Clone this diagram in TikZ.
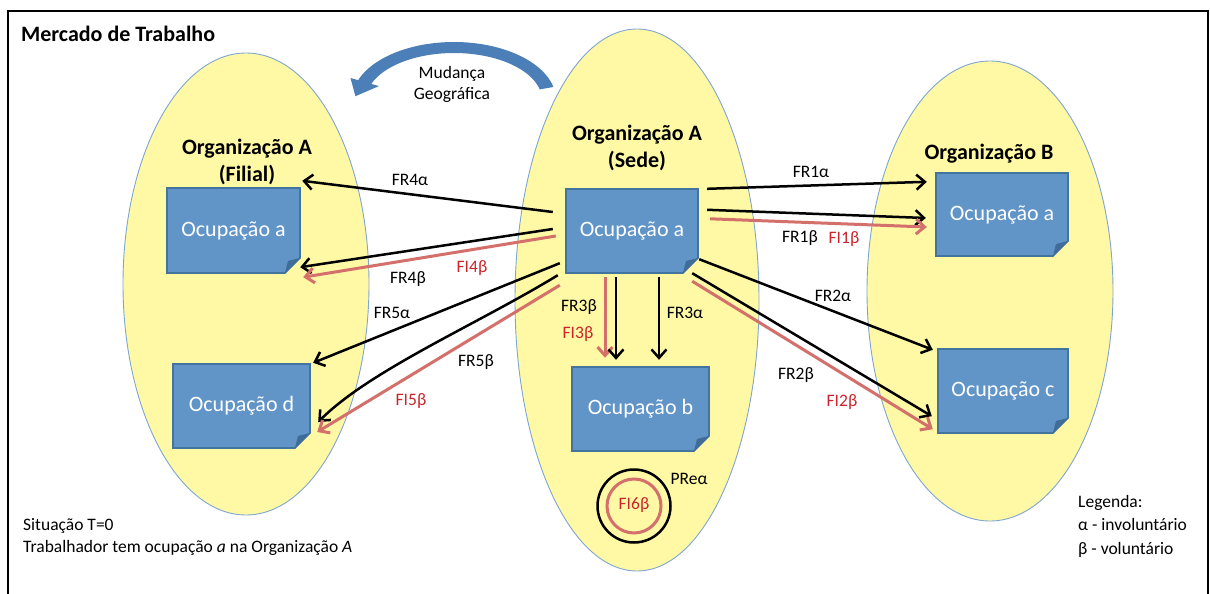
\documentclass[tikz,border=0pt]{standalone}
\usepackage{fontspec}
\setmainfont{Carlito}
\usetikzlibrary{arrows.meta,calc}

\definecolor{orgfill}{HTML}{FFF9A6}
\definecolor{orgline}{HTML}{7FA6CF}
\definecolor{boxfill}{HTML}{6194C7}
\definecolor{boxline}{HTML}{43739F}
\definecolor{boxfold}{HTML}{3F6C99}
\definecolor{redline}{HTML}{D4706B}
\definecolor{redtext}{HTML}{C9252C}
\definecolor{movblue}{HTML}{4C7FB8}

\tikzset{
  org/.style={draw=orgline, line width=0.9pt, fill=orgfill},
  occtext/.style={text=white, inner sep=0pt, font=\fontsize{22}{26}\selectfont},
  orgtitle/.style={inner sep=0pt, align=center, font=\bfseries\fontsize{22}{27}\selectfont},
  lbl/.style={inner sep=0pt, text height=11.3pt, text depth=0pt, font=\fontsize{17.5}{21}\selectfont},
  lblred/.style={lbl, text=redtext},
  note/.style={inner sep=0pt, align=left, anchor=west},
  blk/.style={draw=black, line width=2.5pt, -{Straight Barb[length=8.5pt, width=15pt]}},
  rd/.style={draw=redline, line width=3pt, -{Straight Barb[length=8.5pt, width=15pt]}},
}

% occupation box with a folded bottom-right corner: name, cx, cy, w, h, text
\newcommand\occbox[6]{%
  \fill[boxfill, draw=boxline, line width=1.6pt]
    ({#2-#4/2},{#3-#5/2}) -- ({#2+#4/2},{#3-#5/2}) -- ({#2+#4/2},{#3+#5/2-15})
    -- ({#2+#4/2-15},{#3+#5/2}) -- ({#2-#4/2},{#3+#5/2}) -- cycle;
  \fill[boxfold] ({#2+#4/2},{#3+#5/2-15}) -- ({#2+#4/2-15},{#3+#5/2})
    -- ({#2+#4/2-12},{#3+#5/2-12}) -- cycle;
  \node[occtext, minimum width=#4pt, minimum height=#5pt] (#1) at (#2,#3) {#6};
}

\begin{document}
\begin{tikzpicture}[x=1pt, y=-1pt]
\useasboundingbox (0,0) rectangle (1210,594);
\fill[white] (0,0) rectangle (1210,594);

% outer frame
\draw[line width=2.6pt] (8,610) -- (8,11) -- (1208,11) -- (1208,610);

\node[anchor=west, inner sep=0pt, font=\bfseries\fontsize{22}{26}\selectfont] (titulo) at (21,34) {Mercado de Trabalho};

% organisations
\draw[org] (246,284) ellipse [x radius=123, y radius=231];
\draw[org] (637,300) ellipse [x radius=122, y radius=271];
\draw[org] (990,291) ellipse [x radius=123, y radius=230];

\node[orgtitle] (orgfilial) at (247,161.5) {Organização A\\(Filial)};
\node[orgtitle] (orgsede) at (637,147.5) {Organização A\\(Sede)};
\node[orgtitle] (orgb) at (989,153.5) {Organização B};

% curved block arrow: geographic move
\fill[movblue]
  plot[domain=13:160, samples=60] ({454+102*cos(\x)},{100-58*sin(\x)})
  -- (350.5,78) -- (355.4,96.2) -- (379,86.1)
  -- plot[domain=160:13, samples=60] ({454+88*cos(\x)},{100-47*sin(\x)})
  -- cycle;
\node[lbl, align=center, text height=, text depth=, font=\fontsize{17.5}{21}\selectfont] (mudanca) at (452,84) {Mudança\\Geográfica};

% occupations
\occbox{fa}{233.5}{230.5}{133}{85}{Ocupação a}
\occbox{fd}{241.5}{406}{137}{84}{Ocupação d}
\occbox{sa}{632}{231}{132}{84}{Ocupação a}
\occbox{sb}{640.5}{409}{137}{84}{Ocupação b}
\occbox{ba}{1002}{214.5}{132}{83}{Ocupação a}
\occbox{bc}{1003}{391}{130}{84}{Ocupação c}

% flows to Organização B
\draw[blk] ($(sa.north east)+(9,0)$) -- ($(ba.north west)+(-9,9)$);
\draw[blk] ($(sa.north east)+(9,21)$) -- ($(ba.west)+(-10,3.5)$);
\draw[rd]  ($(sa.north east)+(12,30)$) -- ($(ba.west)+(-9,12.5)$);
\draw[blk] ($(sa.south east)+(1,-14)$) -- ($(bc.north west)+(-5,1)$);
\draw[blk] ($(sa.south east)+(-6,0)$) -- ($(bc.south west)+(-6,-17)$);
\draw[rd]  ($(sa.south east)+(-6,8)$) -- ($(bc.south west)+(-5,-4)$);

% flows inside the headquarters
\draw[rd]  ($(sa.south)+(-27,4)$) -- ($(sb.north)+(-35.5,-9)$);
\draw[blk] ($(sa.south)+(-16,4)$) -- ($(sb.north)+(-24.5,-7)$);
\draw[blk] ($(sa.south)+(27,4)$) -- ($(sb.north)+(18.5,-7)$);

% flows to the branch
\draw[blk] ($(sa.west)+(-13,-19)$) -- ($(fa.north east)+(2,-7)$);
\draw[blk] ($(sa.west)+(-13,-2)$) -- ($(fa.south east)+(0,-6)$);
\draw[rd]  ($(sa.west)+(-10,5)$) -- ($(fa.south east)+(3,4)$);
\draw[blk] ($(sa.south west)+(-6,-10)$) -- ($(fd.north east)+(3,-1)$);
\draw[blk] ($(sa.south west)+(-8,2)$) .. controls (478,324) and (370,370) .. ($(fd.east)+(8,16)$);
\draw[rd]  ($(sa.south west)+(-6,12)$) -- ($(fd.east)+(7,26)$);

% flow labels
\node[lbl] (l1a) at (811,172) {FR1α};
\node[lbl] (l1b) at (800,237) {FR1β};
\node[lblred] (i1b) at (844,238) {FI1β};
\node[lbl] (l2a) at (833,296) {FR2α};
\node[lbl] (l2b) at (796,374) {FR2β};
\node[lblred] (i2b) at (842,401) {FI2β};
\node[lbl] (l3b) at (579,306) {FR3β};
\node[lblred] (i3b) at (578,333) {FI3β};
\node[lbl] (l3a) at (685,313) {FR3α};
\node[lbl] (l4a) at (410,180) {FR4α};
\node[lbl] (l4b) at (408,278) {FR4β};
\node[lblred] (i4b) at (472,267) {FI4β};
\node[lbl] (l5a) at (392,313) {FR5α};
\node[lbl] (l5b) at (476,361) {FR5β};
\node[lblred] (i5b) at (411,400) {FI5β};

% promotion / internal flow rings
\node[circle, draw=black, line width=2.5pt, minimum size=73pt, inner sep=0pt] (pre) at (634,506) {};
\node[circle, draw=redline, line width=3pt, minimum size=54pt, inner sep=0pt] (fi6ring) at (634,506) {};
\node[lblred] (i6b) at (634,504) {FI6β};
\node[lbl] (lpre) at (689,479) {PReα};

% notes
\node[note, font=\fontsize{17.5}{22}\selectfont] (situacao) at (23,536.5)
  {Situação T=0\\Trabalhador tem ocupação \textit{a} na Organização \textit{A}};
\node[note, font=\fontsize{17.5}{23.5}\selectfont] (legenda) at (1078,526)
  {Legenda:\\α - involuntário\\β - voluntário};
\end{tikzpicture}
\end{document}
